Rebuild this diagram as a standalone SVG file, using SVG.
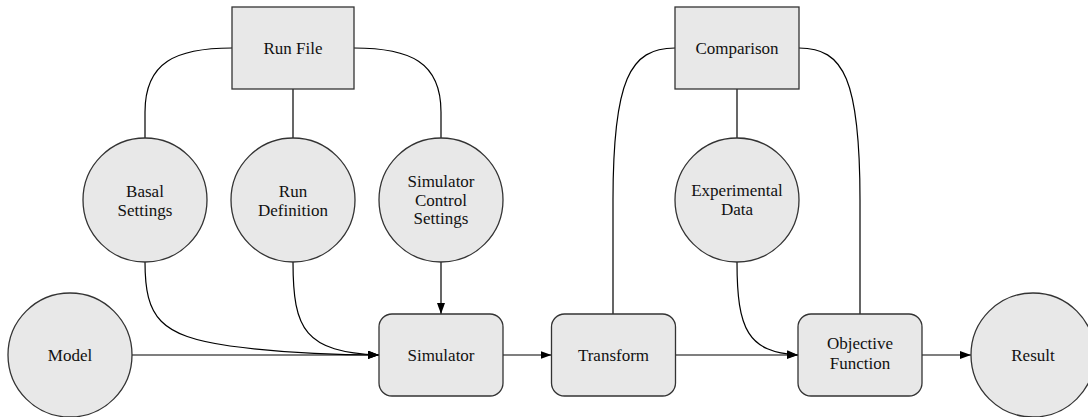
<svg xmlns="http://www.w3.org/2000/svg" width="1088" height="417" viewBox="0 0 1088 417">
  <defs>
    <marker id="arrow" markerUnits="userSpaceOnUse" markerWidth="12" markerHeight="9" refX="11" refY="4" orient="auto">
      <path d="M0,0 L11,4 L0,8 Z" fill="#000"/>
    </marker>
    <style>
      .node { fill: #e8e8e8; stroke: #333; stroke-width: 1.3; }
      .edge { fill: none; stroke: #000; stroke-width: 1.2; }
      .arr { marker-end: url(#arrow); }
      .label { font-family: 'Liberation Serif', 'DejaVu Serif', serif; font-size: 17px; fill: #111; text-anchor: middle; }
    </style>
  </defs>
  <rect width="1088" height="417" fill="#fff"/>

  <g id="connectors">
    <!-- Run File fan-out -->
    <path class="edge" d="M232,48 C176,48 145,62 145,112 L145,138"/>
    <path class="edge" d="M293,89 L293,138"/>
    <path class="edge" d="M354,48 C410,48 441,62 441,112 L441,138"/>
    <!-- inputs to Simulator -->
    <path class="edge arr" d="M145,262 C145,318 160,336 230,346 C290,354 340,355 379,355"/>
    <path class="edge arr" d="M293,262 C293,330 305,352 379,355"/>
    <path class="edge arr" d="M441,262 L441,314"/>
    <path class="edge arr" d="M132,355 L379,355"/>
    <!-- main chain -->
    <path class="edge arr" d="M503,355 L551.5,355"/>
    <path class="edge arr" d="M675.5,355 L798,355"/>
    <path class="edge arr" d="M922,355 L971,355"/>
    <!-- Comparison links -->
    <path class="edge" d="M675,48 C630,48 613,80 613,200 L613,314"/>
    <path class="edge" d="M737,89 L737,139"/>
    <path class="edge" d="M799,48 C844,48 860,80 860,200 L860,314"/>
    <path class="edge arr" d="M737,262 C737,330 748,352 798,355"/>
  </g>

  <g class="label" font-family="Liberation Serif, DejaVu Serif, serif">
    <g id="run-file">
      <rect class="node" x="232" y="7" width="122" height="82"/>
      <text x="293" y="54">Run File</text>
    </g>
    <g id="comparison">
      <rect class="node" x="675" y="7" width="124" height="82"/>
      <text x="737" y="54">Comparison</text>
    </g>

    <g id="basal-settings">
      <circle class="node" cx="145" cy="200" r="62"/>
      <text x="145" y="197">Basal</text>
      <text x="145" y="216">Settings</text>
    </g>
    <g id="run-definition">
      <circle class="node" cx="293" cy="200" r="62"/>
      <text x="293" y="197">Run</text>
      <text x="293" y="216">Definition</text>
    </g>
    <g id="simulator-control-settings">
      <circle class="node" cx="441" cy="200" r="62"/>
      <text x="441" y="187">Simulator</text>
      <text x="441" y="205.5">Control</text>
      <text x="441" y="224">Settings</text>
    </g>
    <g id="experimental-data">
      <circle class="node" cx="737" cy="200" r="62"/>
      <text x="737" y="196">Experimental</text>
      <text x="737" y="215">Data</text>
    </g>

    <g id="model">
      <circle class="node" cx="70" cy="355" r="62"/>
      <text x="70" y="361">Model</text>
    </g>
    <g id="simulator">
      <rect class="node" x="379" y="314" width="124" height="82" rx="13" ry="13"/>
      <text x="441" y="361">Simulator</text>
    </g>
    <g id="transform">
      <rect class="node" x="551.5" y="314" width="124" height="82" rx="13" ry="13"/>
      <text x="613.5" y="361">Transform</text>
    </g>
    <g id="objective-function">
      <rect class="node" x="798" y="314" width="124" height="82" rx="13" ry="13"/>
      <text x="860" y="349">Objective</text>
      <text x="860" y="369">Function</text>
    </g>
    <g id="result">
      <circle class="node" cx="1033" cy="355" r="62"/>
      <text x="1033" y="361">Result</text>
    </g>
  </g>
</svg>
